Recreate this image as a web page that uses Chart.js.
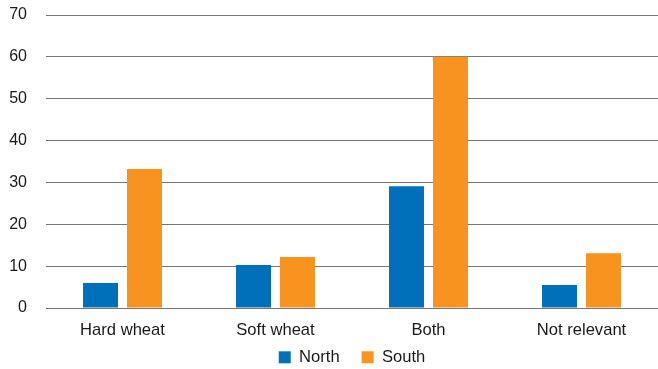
<!DOCTYPE html>
<html>
<head>
<meta charset="utf-8">
<script src="https://cdn.jsdelivr.net/npm/chart.js@4"></script>
<style>
  html, body { margin: 0; padding: 0; background: #fff; }
  #wrap { width: 658px; height: 369px; }
</style>
</head>
<body>
<div id="wrap"><canvas id="graph"></canvas></div>
<script>
const categories = ["Hard wheat", "Soft wheat", "Both", "Not relevant"];
const north = [6.0, 10.3, 29.1, 5.5];
const south = [33.2, 12.2, 60.0, 13.1];
const yTicks = [0, 10, 20, 30, 40, 50, 60, 70];

const family = "'Liberation Sans', Arial, Helvetica, sans-serif";
const font = { family: family, size: 16 };
const labelFont = { family: family, size: 16.6 };

// legend keeps wide item spacing but sits close under the axis labels
const legendFix = {
  id: "legendFix",
  beforeLayout(chart) {
    const lg = chart.legend;
    if (lg && !lg._patched) {
      const fit = lg.fit;
      lg.fit = function () { fit.call(this); this.height = 29; };
      lg._patched = true;
    }
  },
  afterLayout(chart) {
    const lg = chart.legend;
    if (lg) { lg.top = lg.bottom - 42; lg.height = 42; }
  }
};

new Chart(document.getElementById("graph"), {
  type: "bar",
  data: {
    labels: categories,
    datasets: [
      { label: "North", data: north, backgroundColor: "#0070BA", barPercentage: 0.795, categoryPercentage: 0.575 },
      { label: "South", data: south, backgroundColor: "#F7931E", barPercentage: 0.795, categoryPercentage: 0.575 }
    ]
  },
  plugins: [legendFix],
  options: {
    responsive: true,
    maintainAspectRatio: false,
    animation: false,
    layout: { padding: 0 },
    plugins: {
      tooltip: { enabled: false },
      legend: {
        position: "bottom",
        fullSize: false,
        labels: { color: "#1a1a1a", font: labelFont, boxWidth: 12, boxHeight: 12, padding: 22 }
      }
    },
    scales: {
      x: {
        grid: { display: false, drawTicks: false },
        border: { display: false },
        ticks: { color: "#1a1a1a", font: labelFont, padding: 12, maxRotation: 0 },
        afterFit: axis => { axis.height = 32; }
      },
      y: {
        min: 0,
        max: 70,
        afterBuildTicks: axis => { axis.ticks = yTicks.map(v => ({ value: v })); },
        grid: { color: "#777", lineWidth: 1, drawTicks: false },
        border: { display: false },
        ticks: { color: "#1a1a1a", font: font, padding: 19 },
        afterFit: axis => { axis.width = 46; axis.paddingTop = 15; axis.paddingBottom = 0; }
      }
    }
  }
});
</script>
</body>
</html>
